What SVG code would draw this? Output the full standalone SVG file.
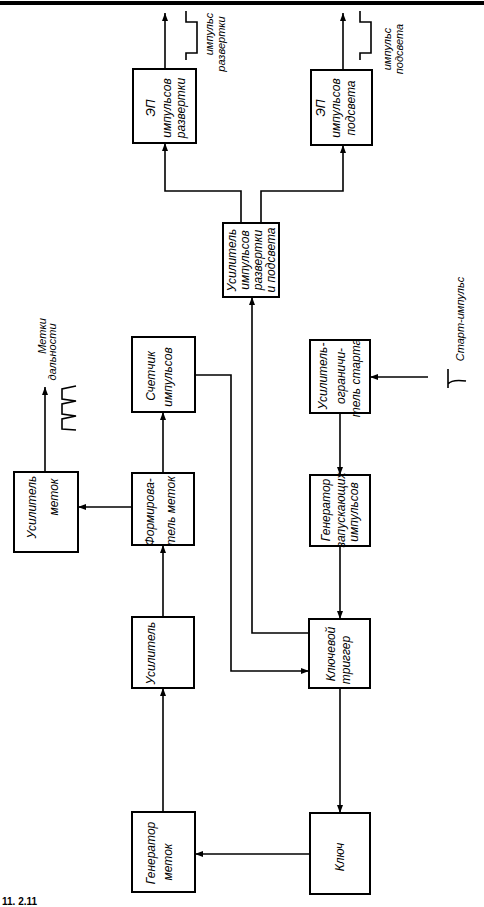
<svg xmlns="http://www.w3.org/2000/svg" width="484" height="907" viewBox="0 0 484 907">
<style>
.box{fill:#fff;stroke:#000;stroke-width:2}
.ln{fill:none;stroke:#000;stroke-width:1.6}
.t{font-family:"Liberation Sans","DejaVu Sans",sans-serif;font-style:italic;font-size:12px;fill:#000;text-anchor:middle}
.s{font-size:11px}
</style>
<defs>
<marker id="ar" markerUnits="userSpaceOnUse" markerWidth="9" markerHeight="6" refX="8" refY="3" orient="auto">
<path d="M0,0 L8,3 L0,6 z" fill="#000"/>
</marker>
</defs>
<rect x="0" y="1" width="484" height="4" fill="#000"/>

<g id="connectors" class="ln">
<path d="M165,69 V13" marker-end="url(#ar)"/>
<path d="M343,70 V13" marker-end="url(#ar)"/>
<path d="M241,223 V191 H165 V143" marker-end="url(#ar)"/>
<path d="M261,223 V191 H343 V145" marker-end="url(#ar)"/>
<path d="M309,633 H252 V297" marker-end="url(#ar)"/>
<path d="M195,375 H231 V671 H309" marker-end="url(#ar)"/>
<path d="M428,377 H370" marker-end="url(#ar)"/>
<path d="M340,413 V475" marker-end="url(#ar)"/>
<path d="M340,546 V619" marker-end="url(#ar)"/>
<path d="M340,688 V813" marker-end="url(#ar)"/>
<path d="M310,854 H195" marker-end="url(#ar)"/>
<path d="M163,812 V688" marker-end="url(#ar)"/>
<path d="M163,617 V545" marker-end="url(#ar)"/>
<path d="M163,473 V412" marker-end="url(#ar)"/>
<path d="M132,507 H78" marker-end="url(#ar)"/>
<path d="M45,472 V387" marker-end="url(#ar)"/>
</g>

<g id="pulse-razv">
<path class="ln" d="M186,11 V22 H197 V53 H186 V60"/>
<text class="t s" transform="translate(213,34) rotate(-90)">импульс</text>
<text class="t s" transform="translate(225,44) rotate(-90)">развертки</text>
</g>
<g id="pulse-podsv">
<path class="ln" d="M360,11 V22 H371 V53 H360 V60"/>
<text class="t s" transform="translate(391,49) rotate(-90)">импульс</text>
<text class="t s" transform="translate(403,49) rotate(-90)">подсвета</text>
</g>
<g id="metki">
<path class="ln" stroke-width="2" d="M76,386 L62,389 V399 L76,401 L62,404 V414 L76,416 L62,419 V429 L76,430"/>
<text class="t s" transform="translate(46,336) rotate(-90)">Метки</text>
<text class="t s" transform="translate(56,352) rotate(-90)">дальности</text>
</g>
<g id="start">
<path class="ln" stroke-width="2" d="M448,369 V388 M448,384 Q452,379 466,381"/>
<text class="t s" transform="translate(464,319) rotate(-90)">Старт-импульс</text>
</g>

<g id="ep-razv">
<rect class="box" x="133" y="69" width="63" height="74"/>
<text class="t" transform="translate(155,108) rotate(-90)">ЭП</text>
<text class="t" transform="translate(171,108) rotate(-90)">импульсов</text>
<text class="t" transform="translate(185,108) rotate(-90)">развертки</text>
</g>
<g id="ep-podsv">
<rect class="box" x="311" y="70" width="61" height="75"/>
<text class="t" transform="translate(325,108) rotate(-90)">ЭП</text>
<text class="t" transform="translate(340,108) rotate(-90)">импульсов</text>
<text class="t" transform="translate(355,108) rotate(-90)">подсвета</text>
</g>
<g id="usil-razv">
<rect class="box" x="223" y="223" width="56" height="74"/>
<text class="t" transform="translate(236,260) rotate(-90)">Усилитель</text>
<text class="t" transform="translate(249,260) rotate(-90)">импульсов</text>
<text class="t" transform="translate(262,260) rotate(-90)">развертки</text>
<text class="t" transform="translate(275,260) rotate(-90)">и подсвета</text>
</g>
<g id="usil-metok">
<rect class="box" x="14" y="472" width="64" height="80"/>
<text class="t" transform="translate(36,507) rotate(-90)">Усилитель</text>
<text class="t" transform="translate(58,497) rotate(-90)">меток</text>
</g>
<g id="schetchik">
<rect class="box" x="132" y="337" width="63" height="75"/>
<text class="t" transform="translate(155,376) rotate(-90)">Счетчик</text>
<text class="t" transform="translate(172,377) rotate(-90)">импульсов</text>
</g>
<g id="formirov">
<rect class="box" x="132" y="473" width="62" height="72"/>
<text class="t" transform="translate(154,512) rotate(-90)">Формирова-</text>
<text class="t" transform="translate(175,511) rotate(-90)">тель меток</text>
</g>
<g id="usilitel">
<rect class="box" x="132" y="617" width="62" height="71"/>
<text class="t" transform="translate(155,653) rotate(-90)">Усилитель</text>
</g>
<g id="gen-metok">
<rect class="box" x="132" y="812" width="63" height="80"/>
<text class="t" transform="translate(155,853) rotate(-90)">Генератор</text>
<text class="t" transform="translate(172,862) rotate(-90)">меток</text>
</g>
<g id="usil-ogr">
<rect class="box" x="310" y="340" width="60" height="73"/>
<text class="t" transform="translate(327,376) rotate(-90)">Усилитель-</text>
<text class="t" transform="translate(345,376) rotate(-90)">ограничи-</text>
<text class="t" transform="translate(360,378) rotate(-90)">тель старта</text>
</g>
<g id="gen-zap">
<rect class="box" x="310" y="475" width="60" height="71"/>
<text class="t" transform="translate(330,510) rotate(-90)">Генератор</text>
<text class="t" transform="translate(345,510) rotate(-90)">запускающих</text>
<text class="t" transform="translate(358,512) rotate(-90)">импульсов</text>
</g>
<g id="kl-trigger">
<rect class="box" x="309" y="619" width="61" height="69"/>
<text class="t" transform="translate(335,654) rotate(-90)">Ключевой</text>
<text class="t" transform="translate(350,660) rotate(-90)">триггер</text>
</g>
<g id="kluch">
<rect class="box" x="310" y="813" width="60" height="81"/>
<text class="t" transform="translate(344,857) rotate(-90)">Ключ</text>
</g>

<text x="2" y="905" style="font-family:'Liberation Sans',sans-serif;font-size:10px;font-weight:bold">11. 2.11</text>
</svg>
